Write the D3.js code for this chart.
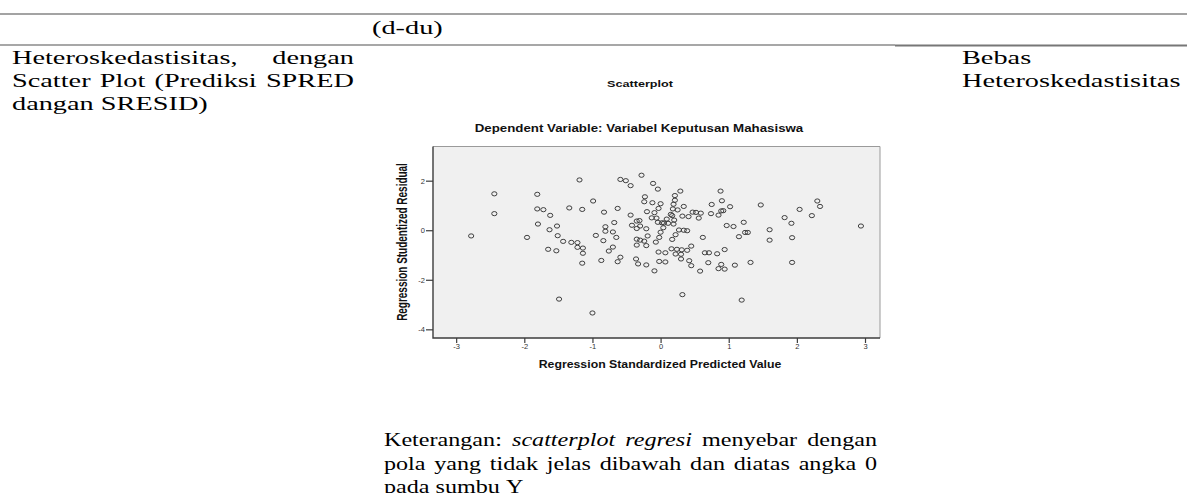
<!DOCTYPE html>
<html>
<head>
<meta charset="utf-8">
<script src="https://cdn.jsdelivr.net/npm/d3@7"></script>
<style>
  html, body { margin: 0; padding: 0; background: #fff; }
  svg { display: block; }
</style>
</head>
<body>
<svg id="page" width="1187" height="493"></svg>
<script>
// regression standardized predicted value (x) and studentized residual (y)
const predicted = [
  -2.78, -2.44, -2.44, -1.96, -1.81, -1.81, -1.72, -1.80, -1.62, -1.63,
  -1.52, -1.51, -1.65, -1.53, -1.43, -1.31, -1.22, -1.22, -1.14, -1.14,
  -1.34, -1.19, -1.15, -0.99, -0.95, -0.83, -0.81, -0.81, -0.68, -0.70,
  -0.65, -0.63, -0.84, -0.76, -0.70, -1.15, -0.87, -0.63, -0.59, -1.49,
  -1.00, -0.59, -0.51, -0.44, -0.28, -0.11, -0.04, -0.23, -0.24, -0.12,
   0.00, -0.03, -0.20, -0.09, -0.13, -0.06, -0.04,  0.02, -0.35, -0.31,
  -0.44, -0.42, -0.30, -0.21, -0.35, -0.35, -0.30, -0.24, -0.19, -0.21,
  -0.35, -0.07, -0.02,  0.00,  0.04, -0.03, -0.02, -0.36, -0.33, -0.21,
  -0.09,  0.07,  0.07,  0.29,  0.21,  0.21,  0.19,  0.34,  0.18,  0.25,
   0.15,  0.17,  0.32,  0.41,  0.47,  0.52,  0.59,  0.56,  0.74,  0.85,
   0.89,  0.92,  0.88,  0.90,  0.75,  1.02,  1.47,  0.09,  0.05,  0.11,
   0.20,  0.19,  0.97,  1.07,  1.22,  1.60,  1.82,  0.27,  0.34,  0.39,
   0.17,  0.22,  0.62,  1.15,  1.24,  1.28,  1.60,  0.16,  0.24,  0.31,
   0.22,  0.30,  0.39,  0.45,  0.30,  0.42,  0.45,  0.58,  0.65,  0.71,
   0.83,  0.94,  0.70,  0.89,  0.85,  0.94,  1.09,  1.32,  0.32,  1.19,
   2.30,  2.34,  2.04,  2.22,  1.92,  1.93,  2.94,  1.93
];
const residual = [
  -0.23,  1.47,  0.67, -0.29,  1.45,  0.86,  0.83,  0.25,  0.60,  0.02,
   0.17, -0.22, -0.77, -0.83, -0.45, -0.49, -0.50, -0.69, -0.72, -0.93,
   0.90,  2.03,  0.84,  1.18, -0.21,  0.73,  0.14, -0.04,  0.31, -0.07,
  -0.29,  0.88, -0.42, -0.84, -0.68, -1.33, -1.22, -1.27, -1.09, -2.78,
  -3.34,  2.05,  2.00,  1.80,  2.22,  1.89,  1.66,  1.35,  1.15,  1.11,
   1.07,  0.88,  0.75,  0.71,  0.50,  0.49,  0.32,  0.30,  0.37,  0.39,
   0.61,  0.20,  0.17,  0.06,  0.07, -0.36, -0.40, -0.44, -0.23, -0.62,
  -0.60, -0.48, -0.29, -0.08,  0.10, -0.88, -1.26, -1.16, -1.36, -1.40,
  -1.64, -1.28, -0.91,  1.58,  1.40,  1.21,  1.05,  0.96,  0.86,  0.82,
   0.64,  0.59,  0.57,  0.55,  0.73,  0.72,  0.69,  0.49,  0.67,  0.61,
   0.78,  0.79,  1.58,  1.19,  1.04,  0.95,  1.02,  0.45,  0.29,  0.28,
   0.41,  0.25,  0.19,  0.15,  0.32,  0.02,  0.51,  0.01,  0.00, -0.02,
  -0.37, -0.18, -0.29, -0.26, -0.09, -0.09, -0.40, -0.75, -0.77, -0.79,
  -0.96, -0.97, -0.81, -0.64, -1.16, -1.23, -1.43, -1.65, -0.91, -0.91,
  -0.95, -0.78, -1.31, -1.38, -1.55, -1.57, -1.41, -1.30, -2.60, -2.82,
   1.18,  0.96,  0.84,  0.59,  0.28, -0.30,  0.17, -1.30
];
const xTicks = [-3, -2, -1, 0, 1, 2, 3];
const yTicks = [-4, -2, 0, 2];

const chartTitle = "Scatterplot";
const chartSubtitle = "Dependent Variable: Variabel Keputusan Mahasiswa";
const xLabel = "Regression Standardized Predicted Value";
const yLabel = "Regression Studentized Residual";

// table text around the chart ("*" marks an italic word)
const leftCell = [
  { words: ["Heteroskedastisitas,", "dengan"], justify: true },
  { words: ["Scatter", "Plot", "(Prediksi", "SPRED"], justify: true },
  { words: ["dangan", "SRESID)"], justify: false }
];
const rightCell = ["Bebas", "Heteroskedastisitas"];
const noteLines = [
  { words: ["Keterangan:", "*scatterplot", "*regresi", "menyebar", "dengan"], justify: true },
  { words: ["pola", "yang", "tidak", "jelas", "dibawah", "dan", "diatas", "angka", "0"], justify: true },
  { words: ["pada", "sumbu", "Y"], justify: false }
];

const svg = d3.select("#page");
const SERIF = "'Liberation Serif', 'Times New Roman', serif";
const SANS = "'Liberation Sans', Arial, sans-serif";
const FS = 19;      // body font size
const SX = 1.49;    // the picture is stretched sideways
const SX_NOTE = 1.27; // the note under the chart sits a bit narrower

// ---------- table rules ----------
svg.append("line").attr("x1", 0).attr("x2", 1187).attr("y1", 14).attr("y2", 14)
  .attr("stroke", "#858585").attr("stroke-width", 1.6);
svg.append("line").attr("x1", 0).attr("x2", 895).attr("y1", 45).attr("y2", 45)
  .attr("stroke", "#8a8a8a").attr("stroke-width", 1.4);
svg.append("line").attr("x1", 895).attr("x2", 1187).attr("y1", 45.5).attr("y2", 45.5)
  .attr("stroke", "#777").attr("stroke-width", 1.8);

// ---------- serif text helpers ----------
const body = svg.append("g")
  .attr("font-family", SERIF)
  .attr("font-size", FS)
  .attr("fill", "#000");

function textLine(g, words, x0, x1, base, justify, sx) {
  const nodes = words.map(w => {
    const it = w.startsWith("*");
    return g.append("text")
      .attr("font-style", it ? "italic" : null)
      .text(it ? w.slice(1) : w);
  });
  const widths = nodes.map(n => n.node().getComputedTextLength() * sx);
  const space = FS * 0.25 * sx;
  const gap = justify && words.length > 1
    ? (x1 - x0 - d3.sum(widths)) / (words.length - 1)
    : space;
  let x = x0;
  nodes.forEach((n, i) => {
    n.attr("transform", `translate(${x},${base}) scale(${sx},1)`);
    x += widths[i] + gap;
  });
}

textLine(body, ["(d-du)"], 372, 443, 34, false, SX);
leftCell.forEach((l, i) => textLine(body, l.words, 12, 354, 64 + i * 23, l.justify, SX));
rightCell.forEach((t, i) => textLine(body, [t], 962, 1182, 64 + i * 23, false, SX));
noteLines.forEach((l, i) => textLine(body, l.words, 384, 877, 446 + i * 23.5, l.justify, SX_NOTE));

// ---------- scatter chart ----------
const frame = { left: 433, right: 880, top: 146.5, bottom: 338 };

const x = d3.scaleLinear().domain([-3.34, 3.22]).range([frame.left, frame.right]);
const y = d3.scaleLinear().domain([-4.35, 3.38]).range([frame.bottom, frame.top]);

const chart = svg.append("g").attr("font-family", SANS);

chart.append("rect")
  .attr("x", frame.left).attr("y", frame.top)
  .attr("width", frame.right - frame.left).attr("height", frame.bottom - frame.top)
  .attr("fill", "#f0f0f0");

// light top/right edge, darker axis lines left/bottom
chart.append("path")
  .attr("d", `M${frame.left},${frame.top}H${frame.right}V${frame.bottom}`)
  .attr("fill", "none").attr("stroke", "#9a9a9a").attr("stroke-width", 1);
chart.append("path")
  .attr("d", `M${frame.left},${frame.top}V${frame.bottom}H${frame.right}`)
  .attr("fill", "none").attr("stroke", "#3c3c3c").attr("stroke-width", 1.4);

const xAxis = chart.append("g")
  .attr("transform", `translate(0,${frame.bottom})`)
  .call(d3.axisBottom(x).tickValues(xTicks).tickSize(5).tickFormat(d => String(d)));
const yAxis = chart.append("g")
  .attr("transform", `translate(${frame.left},0)`)
  .call(d3.axisLeft(y).tickValues(yTicks).tickSize(7).tickFormat(d => String(d)));

[xAxis, yAxis].forEach(a => {
  a.select(".domain").remove();
  a.selectAll(".tick line").attr("stroke", "#3c3c3c").attr("stroke-width", 1.2);
  a.selectAll(".tick text")
    .attr("font-family", SANS).attr("font-size", 7.5).attr("fill", "#333");
});
xAxis.selectAll(".tick text").attr("dy", "0.9em").attr("y", 4);
yAxis.selectAll(".tick text").attr("x", -8);

chart.append("g")
  .selectAll("ellipse")
  .data(predicted.map((p, i) => [p, residual[i]]))
  .join("ellipse")
  .attr("cx", d => x(d[0]))
  .attr("cy", d => y(d[1]))
  .attr("rx", 2.6)
  .attr("ry", 2.1)
  .attr("fill", "none")
  .attr("stroke", "#363636")
  .attr("stroke-width", 0.95);

// bold labels, fitted to the widths seen in the picture
function fitLabel(str, cx, base, width, fs) {
  const t = chart.append("text")
    .attr("font-weight", "bold").attr("font-size", fs)
    .attr("text-anchor", "middle").attr("fill", "#111")
    .text(str);
  const w = t.node().getComputedTextLength();
  t.attr("transform", `translate(${cx},${base}) scale(${width / w},1)`);
  return t;
}
fitLabel(chartTitle, 640, 86.5, 66, 9);
fitLabel(chartSubtitle, 639, 132, 329, 10);
fitLabel(xLabel, 660, 368, 243, 10);

// y label runs along the axis, glyphs stretched sideways like everything else
const yl = chart.append("text")
  .attr("font-weight", "bold").attr("font-size", 9)
  .attr("text-anchor", "middle").attr("fill", "#111")
  .text(yLabel);
const ylLen = yl.node().getComputedTextLength();
yl.attr("font-size", 9 * 158 / ylLen)
  .attr("transform", `translate(407,242) scale(1.45,1) rotate(-90)`);
</script>
</body>
</html>
